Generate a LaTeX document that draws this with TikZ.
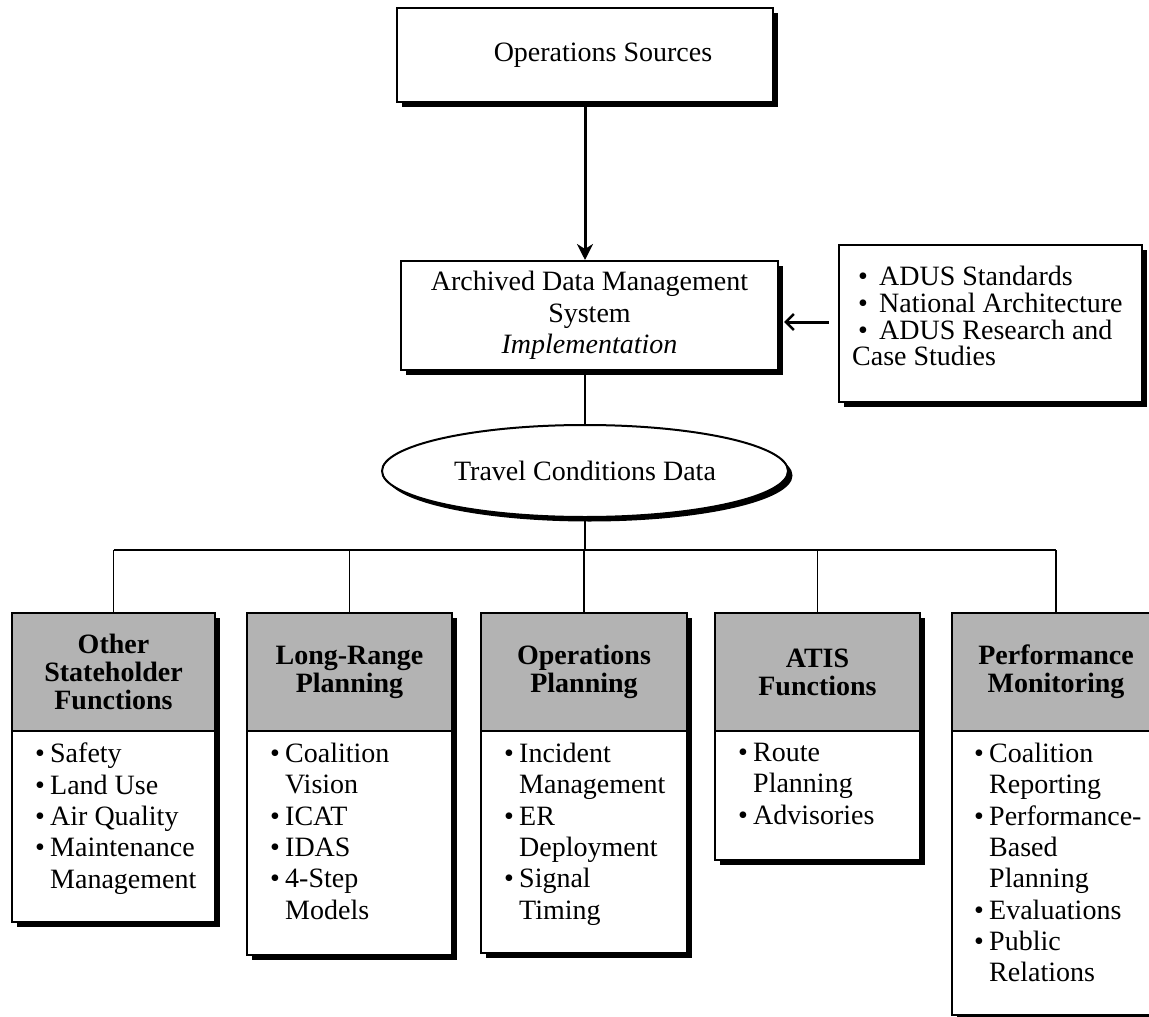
\documentclass[tikz,border=0pt]{standalone}
\usepackage{fontspec}
\setmainfont{Liberation Serif}
\usetikzlibrary{shapes.geometric,shadows,arrows.meta}
\definecolor{hdrgray}{RGB}{179,179,179}
\tikzset{
  myshadow/.style={drop shadow={shadow xshift=4.5pt,shadow yshift=-4.5pt,opacity=1,fill=black}},
  boxout/.style={draw,line width=2pt,fill=white,rectangle,inner sep=0pt,myshadow},
  hdr/.style={draw,line width=2pt,fill=hdrgray,rectangle,inner sep=0pt,align=center,
    font=\fontsize{28}{28}\selectfont\bfseries},
  body/.style={anchor=north west,inner sep=0pt,align=left,font=\fontsize{28}{31.3}\selectfont},
  conn/.style={line width=1.2pt},
  bigarrow/.style={line width=3pt},
}
\newcommand{\bl}{\makebox[15pt][l]{\textbullet}}
\newcommand{\blx}{\makebox[21pt][l]{\textbullet}}
\newcommand{\ind}{\hspace*{15pt}}
\begin{document}
\begin{tikzpicture}[x=1pt,y=-1pt]
\useasboundingbox (0,0) rectangle (1149,1017);
\fill[white] (0,0) rectangle (1149,1017);

% top boxes
\node[boxout,minimum width=376pt,minimum height=94pt,font=\fontsize{28}{31}\selectfont] (ops) at (585,55) {\hspace*{36pt}Operations Sources};
\node[boxout,minimum width=377pt,minimum height=109pt,align=center,font=\fontsize{28}{31.5}\selectfont] (arch) at (589.5,315.5)
  {Archived Data Management\\System\\\textit{Implementation}};
\node[boxout,minimum width=303pt,minimum height=157pt] (ext) at (990.5,323.5) {};
\node[body,font=\fontsize{28}{26.7}\selectfont] (extt) at (852,266)
  {\hspace*{6pt}\blx ADUS Standards\\\hspace*{6pt}\blx National Architecture\\\hspace*{6pt}\blx ADUS Research and\\Case Studies};
\node[ellipse,draw,line width=2pt,fill=white,myshadow,minimum width=406pt,minimum height=92pt,inner sep=0pt,
  font=\fontsize{28}{31}\selectfont] (ell) at (585,471) {Travel Conditions Data};

% connectors top
\draw[bigarrow,-{Stealth[length=16pt,width=16pt,inset=5pt]}] (ops.south) -- (ops.south |- arch.north);
\draw[bigarrow,{Straight Barb[length=8pt,width=16pt,line width=2.5pt]}-] ([xshift=5pt]arch.east |- 0,322) -- ([xshift=-9pt]ext.west |- 0,322);
\draw[conn] (ell.north |- arch.south) -- (ell.north);
\coordinate (j) at (585,550);
\draw[conn] (ell.south) -- (j);

% bottom boxes
\node[boxout,minimum width=203pt,minimum height=309pt] (b1) at (113.5,767.5) {};
\node[hdr,minimum width=203pt,minimum height=118pt] (h1) at (113.5,672) {Other\\Stateholder\\Functions};
\node[body] (t1) at (35,743) {\bl Safety\\\bl Land Use\\\bl Air Quality\\\bl Maintenance\\\ind Management};

\node[boxout,minimum width=205pt,minimum height=342pt] (b2) at (349.5,784) {};
\node[hdr,minimum width=205pt,minimum height=118pt] (h2) at (349.5,672) {Long-Range\\Planning};
\node[body] (t2) at (270,743) {\bl Coalition\\\ind Vision\\\bl ICAT\\\bl IDAS\\\bl 4-Step\\\ind Models};

\node[boxout,minimum width=206pt,minimum height=340pt] (b3) at (584,783) {};
\node[hdr,minimum width=206pt,minimum height=118pt] (h3) at (584,672) {Operations\\Planning};
\node[body] (t3) at (504,743) {\bl Incident\\\ind Management\\\bl ER\\\ind Deployment\\\bl Signal\\\ind Timing};

\node[boxout,minimum width=205pt,minimum height=247pt] (b4) at (817.5,736.5) {};
\node[hdr,minimum width=205pt,minimum height=118pt] (h4) at (817.5,672) {ATIS\\Functions};
\node[body] (t4) at (738,743) {\bl Route\\\ind Planning\\\bl Advisories};

\node[boxout,minimum width=208pt,minimum height=402pt] (b5) at (1056,814) {};
\node[hdr,minimum width=208pt,minimum height=118pt] (h5) at (1056,672) {Performance\\Monitoring};
\node[body] (t5) at (974,743) {\bl Coalition\\\ind Reporting\\\bl Performance-\\\ind Based\\\ind Planning\\\bl Evaluations\\\bl Public\\\ind Relations};

% tree connectors
\draw[conn] (h1.north |- j) -- (h5.north |- j);
\foreach \n in {1,...,5} {\draw[conn] (h\n.north |- j) -- (h\n.north);}
\end{tikzpicture}
\end{document}
